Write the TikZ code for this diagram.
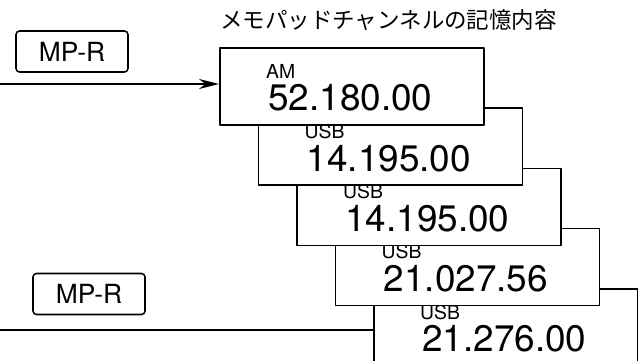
\documentclass[tikz,border=0pt]{standalone}
\usepackage{fontspec}
\setmainfont{TeX Gyre Heros}
\newfontfamily\jpfont{Noto Sans CJK JP}
\usetikzlibrary{arrows.meta,positioning}

\tikzset{
  membox/.style={draw, fill=white, line width=1.4pt, minimum width=7.92cm,
    minimum height=2.31cm, anchor=north west, inner sep=0pt},
  keybox/.style={draw, rounded corners=3pt, line width=1.3pt, minimum width=3.36cm,
    minimum height=1.23cm, font=\fontsize{22.5}{24}\selectfont},
  modetext/.style={anchor=west, inner sep=0pt, font=\fontsize{16.5}{18}\selectfont},
  freqtext/.style={anchor=west, inner sep=0pt, font=\fontsize{31.5}{33}\selectfont},
}

\begin{document}
\begin{tikzpicture}[x=0.03cm, y=-0.03cm, line cap=round, line join=round]
  % Window of the picture
  \clip (0,0) rectangle (638,361);
  \def\dx{38.5} \def\dy{60.25}

  % Title above the stack
  \node[anchor=west, inner sep=0pt, font=\jpfont\fontsize{19.2}{21}\selectfont]
    (title) at (220,20) {メモパッドチャンネルの記憶内容};

  % Memory pad channels, drawn from back to front
  \foreach \i/\mode/\freq in {5/USB/21.276.00, 4/USB/21.027.56, 3/USB/14.195.00,
      2/USB/14.195.00, 1/AM/52.180.00} {
    \node[membox] (box\i) at ({219+(\i-1)*\dx}, {47+(\i-1)*\dy}) {};
    \node[modetext] (mode\i) at ({266+(\i-1)*\dx}, {71+(\i-1)*\dy}) {\mode};
    \node[freqtext] (freq\i) at ({268+(\i-1)*\dx}, {98+(\i-1)*\dy}) {\freq};
  }

  % MP-R keys
  \node[keybox] (mpr1) at (72,51.5) {MP-R};
  \node[keybox] (mpr2) at (89,294) {MP-R};

  % Lines into the stack
  \coordinate (in1) at (0,84);
  \coordinate (in2) at (0,330);
  \draw[line width=1.4pt, -{Stealth[length=6mm, width=3mm]}] (in1) -- (in1 -| box1.west);
  \draw[line width=1.4pt] (in2) -- (in2 -| box5.west);
\end{tikzpicture}
\end{document}
